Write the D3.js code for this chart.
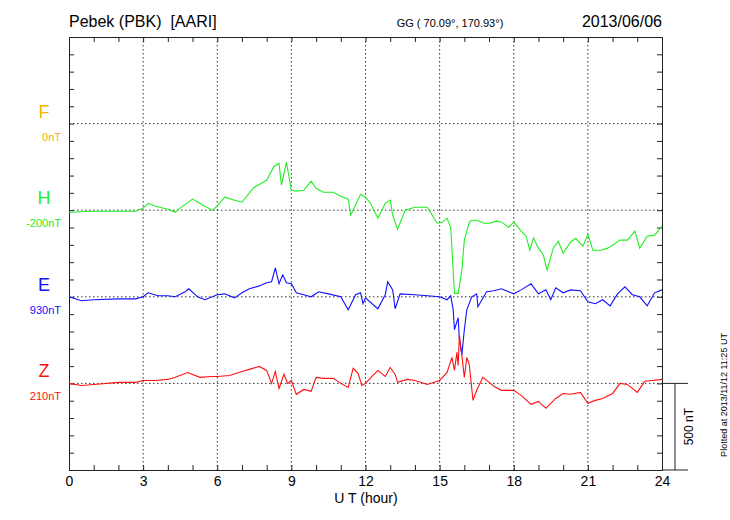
<!DOCTYPE html>
<html><head><meta charset="utf-8">
<script src="https://cdn.jsdelivr.net/npm/d3@7"></script>
<style>body{margin:0;background:#fff}text{font-family:"Liberation Sans",Arial,sans-serif;white-space:pre}</style>
</head><body><div id="chart"></div>
<script>
// hours and deviations (nT)
hHours = [0,1,2,2.7,3,3.2,3.5,4,4.3,4.5,5,5.5,5.8,6,6.3,6.7,7,7.3,7.5,8,8.3,8.5,8.6,8.8,9,9.2,9.5,9.8,10,10.3,10.7,11,11.3,11.4,11.8,12,12.2,12.5,12.8,13,13.1,13.3,13.6,14,14.5,14.9,15.1,15.3,15.45,15.6,15.75,15.9,16,16.2,16.3,16.5,16.8,17,17.3,17.5,17.8,18,18.3,18.5,18.65,18.8,19,19.2,19.35,19.6,19.8,20,20.3,20.5,20.8,21,21.2,21.5,21.8,22,22.3,22.6,22.9,23.1,23.4,23.7,24]
hVals  = [-12,-6,-6,-6,12,40,23,6,-12,12,64,23,0,23,75,58,46,100,133,173,254,270,144,277,115,110,115,167,127,104,104,81,64,-29,92,75,40,-46,40,58,-29,-110,0,17,17,-75,-70,-46,-100,-480,-480,-346,-173,-70,-58,-58,-75,-75,-63,-69,-98,-69,-121,-150,-231,-160,-219,-260,-346,-219,-179,-248,-185,-162,-208,-138,-231,-231,-219,-202,-173,-173,-121,-219,-150,-144,-92]

eHours = [0,0.5,1,2,2.7,3,3.2,3.6,4,4.3,4.7,4.85,5.2,5.5,6,6.3,6.7,7,7.3,7.7,8,8.2,8.35,8.5,8.65,8.8,9,9.2,9.5,9.8,10.1,10.5,11,11.3,11.6,11.8,11.9,12,12.5,12.8,12.9,13.1,13.2,13.4,14,14.5,15,15.3,15.45,15.55,15.6,15.75,15.8,15.9,16,16.1,16.3,16.5,16.55,16.9,17.2,17.5,18,18.3,18.7,19,19.3,19.5,19.7,20,20.3,20.7,21,21.3,21.6,21.9,22.2,22.5,22.8,23.1,23.4,23.7,24]
eVals  = [0,-23,-17,-12,-12,0,23,6,6,0,29,46,0,-17,12,17,-6,23,46,63,81,87,167,75,127,81,75,23,12,0,29,17,0,-75,12,23,-40,-6,-69,12,87,40,-69,17,12,6,0,-17,6,-75,-190,-121,-248,-335,-190,-75,0,17,-58,29,35,46,17,40,75,17,40,-17,52,23,40,35,-29,-40,-17,-52,17,58,12,0,-52,23,40]

zHours = [0,0.5,1,2,2.7,3,3.5,4,4.3,4.8,5.3,5.8,6,6.5,7,7.3,7.7,8,8.2,8.35,8.5,8.7,8.85,9,9.2,9.5,9.8,10,10.3,10.7,11,11.3,11.5,11.7,11.85,12,12.3,12.5,12.8,13,13.2,13.3,13.7,14,14.5,15,15.3,15.5,15.6,15.7,15.75,15.8,15.9,16,16.1,16.2,16.35,16.5,16.75,17.2,17.5,18,18.3,18.7,19,19.3,19.5,19.7,20,20.3,20.7,21,21.3,21.6,22,22.3,22.6,23,23.3,23.6,24]
zVals  = [0,-12,-6,6,6,17,17,23,35,63,35,40,40,46,69,81,98,75,0,69,-29,52,0,17,-63,-35,-46,35,29,29,0,-23,87,58,-12,0,46,75,40,92,52,6,23,17,-6,17,63,150,75,179,104,277,162,35,150,110,-98,-40,35,-17,-40,-40,-69,-121,-104,-144,-115,-87,-58,-63,-52,-115,-98,-87,-58,0,-6,-52,12,17,23]

fLabel = ["F","0nT"]
traces = [
	{name: "H", off: "-200nT", hours: hHours, vals: hVals, base: 1500, color: "#22ee22"},
	{name: "E", off: "930nT", hours: eHours, vals: eVals, base: 1000, color: "#1010ff"},
	{name: "Z", off: "210nT", hours: zHours, vals: zVals, base: 500, color: "#ff1010"}
]
xTicks = [0,3,6,9,12,15,18,21,24]

const margin = {left: 69, top: 37}, w = 593, h = 433;
const svg = d3.select("#chart").append("svg").attr("width", 730).attr("height", 520);
const g = svg.append("g").attr("transform", `translate(${margin.left}, ${margin.top})`);

var x = d3.scaleLinear().domain([0, 24]).range([0, w]);
var y = d3.scaleLinear().domain([0, 2500]).range([h, 0]);

// grid
g.selectAll(".vg").data(xTicks.slice(1, -1)).enter().append("line")
	.attr("x1", d => x(d)).attr("x2", d => x(d)).attr("y1", 0).attr("y2", h)
	.attr("stroke", "#333").attr("stroke-dasharray", "1.5,2.5");
g.selectAll(".hg").data([500, 1000, 1500, 2000]).enter().append("line")
	.attr("x1", 0).attr("x2", w).attr("y1", d => y(d)).attr("y2", d => y(d))
	.attr("stroke", "#333").attr("stroke-dasharray", "1.5,2.5");

// axes with inward ticks
g.append("g").attr("transform", `translate(0, ${h})`)
	.call(d3.axisBottom(x).tickValues(d3.range(0, 25)).tickSize(-5).tickFormat(d => xTicks.includes(d) ? d : ""));
g.append("g").call(d3.axisTop(x).tickValues(d3.range(0, 25)).tickSize(-5).tickFormat(""));
g.append("g").call(d3.axisLeft(y).tickValues(d3.range(0, 2501, 100)).tickSize(-5).tickFormat(""));
g.append("g").attr("transform", `translate(${w}, 0)`)
	.call(d3.axisRight(y).tickValues(d3.range(0, 2501, 100)).tickSize(-5).tickFormat(""));
g.selectAll(".domain").attr("stroke", "#222");
g.selectAll(".tick line").attr("stroke", "#222");
g.selectAll(".tick text").attr("font-size", 14).attr("fill", "#000").attr("dy", "0.9em")
	.style("font-family", "Liberation Sans, Arial, sans-serif");

// traces
const line = d3.line().x(d => x(d[0])).y(d => y(d[1]));
traces.forEach(t => {
	const pts = t.hours.map((hr, i) => [hr, t.base + t.vals[i]]);
	g.append("path").datum(pts).attr("d", line).attr("fill", "none")
		.attr("stroke", t.color).attr("stroke-width", 1.1);
	g.append("text").attr("x", -25).attr("y", y(t.base) - 6).attr("text-anchor", "middle")
		.attr("font-size", 18).attr("fill", t.color).text(t.name);
	g.append("text").attr("x", -8).attr("y", y(t.base) + 17).attr("text-anchor", "end")
		.attr("font-size", 11).attr("fill", t.color).text(t.off);
});
g.append("text").attr("x", -25).attr("y", y(2000) - 6).attr("text-anchor", "middle")
	.attr("font-size", 18).attr("fill", "#f5b000").text(fLabel[0]);
g.append("text").attr("x", -8).attr("y", y(2000) + 17).attr("text-anchor", "end")
	.attr("font-size", 11).attr("fill", "#f5b000").text(fLabel[1]);

// scale bar
g.append("line").attr("x1", w).attr("x2", w + 26).attr("y1", y(500)).attr("y2", y(500)).attr("stroke", "#222");
g.append("line").attr("x1", w).attr("x2", w + 26).attr("y1", h).attr("y2", h).attr("stroke", "#222");
g.append("line").attr("x1", w + 13).attr("x2", w + 13).attr("y1", y(500)).attr("y2", h).attr("stroke", "#222");
g.append("text").attr("transform", `translate(${w + 31}, ${(y(500) + h) / 2}) rotate(-90)`)
	.attr("text-anchor", "middle").attr("font-size", 12).text("500 nT");

// titles
svg.append("text").attr("x", 69).attr("y", 27).attr("font-size", 16).text("Pebek (PBK)  [AARI]");
svg.append("text").attr("x", 450).attr("y", 27).attr("font-size", 11).attr("text-anchor", "middle").text("GG ( 70.09°, 170.93°)");
svg.append("text").attr("x", 662).attr("y", 27).attr("font-size", 16).attr("text-anchor", "end").text("2013/06/06");
svg.append("text").attr("x", 366).attr("y", 503).attr("font-size", 14).attr("text-anchor", "middle").text("U T (hour)");
svg.append("text").attr("transform", "translate(727, 395) rotate(-90)").attr("font-size", 9)
	.attr("text-anchor", "middle").text("Plotted at 2013/11/12 11:25 UT");
</script></body></html>
